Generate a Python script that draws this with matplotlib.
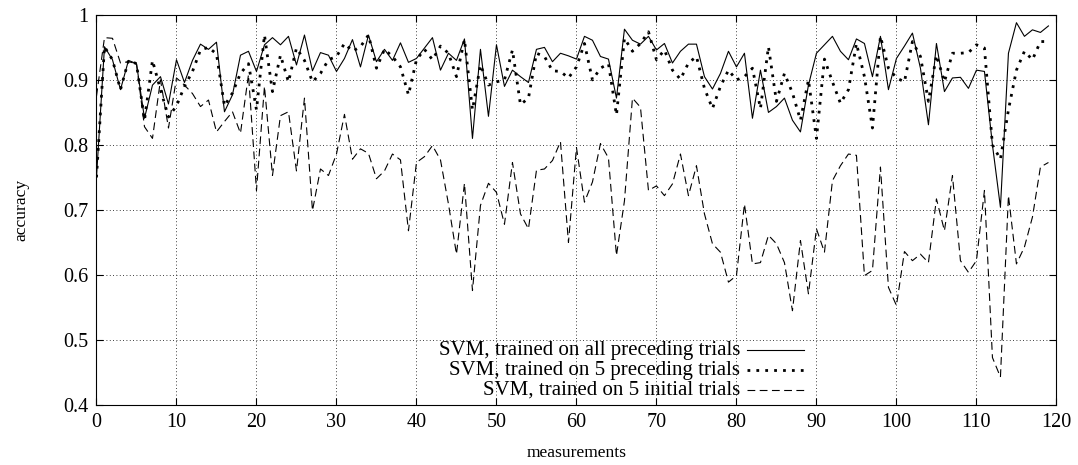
import matplotlib
matplotlib.use("Agg")
import matplotlib.pyplot as plt
from matplotlib.lines import Line2D

plt.rcParams['font.family'] = ['Liberation Serif', 'DejaVu Serif']

# --- data ---
measurements = list(range(120))

svm_all = [
    0.75, 0.951, 0.931, 0.885, 0.93, 0.925, 0.841, 0.892, 0.905, 0.863,
    0.931, 0.896, 0.93, 0.955, 0.947, 0.958, 0.851, 0.877, 0.938, 0.944,
    0.913, 0.954, 0.965, 0.954, 0.967, 0.923, 0.969, 0.914, 0.942, 0.938,
    0.913, 0.933, 0.962, 0.92, 0.969, 0.928, 0.947, 0.93, 0.957, 0.927,
    0.933, 0.949, 0.965, 0.915, 0.941, 0.93, 0.963, 0.81, 0.947, 0.844,
    0.954, 0.89, 0.915, 0.905, 0.896, 0.947, 0.95, 0.928, 0.941, 0.937,
    0.932, 0.967, 0.961, 0.936, 0.932, 0.872, 0.978, 0.961, 0.955, 0.967,
    0.946, 0.956, 0.926, 0.944, 0.955, 0.955, 0.905, 0.886, 0.91, 0.944,
    0.92, 0.941, 0.841, 0.915, 0.85, 0.859, 0.872, 0.838, 0.82, 0.892,
    0.941, 0.954, 0.967, 0.944, 0.931, 0.963, 0.956, 0.905, 0.967, 0.885,
    0.933, 0.952, 0.972, 0.918, 0.831, 0.956, 0.882, 0.903, 0.904, 0.887,
    0.915, 0.913, 0.80, 0.704, 0.941, 0.988, 0.967, 0.977, 0.973, 0.983,
]

svm_5_preceding = [
    0.75, 0.951, 0.931, 0.885, 0.93, 0.925, 0.838, 0.93, 0.885, 0.843,
    0.86, 0.89, 0.913, 0.946, 0.95, 0.94, 0.86, 0.88, 0.91, 0.925,
    0.854, 0.969, 0.882, 0.938, 0.897, 0.949, 0.93, 0.897, 0.91, 0.931,
    0.936, 0.956, 0.944, 0.951, 0.969, 0.918, 0.947, 0.936, 0.92, 0.877,
    0.931, 0.947, 0.931, 0.952, 0.941, 0.905, 0.962, 0.854, 0.923, 0.892,
    0.897, 0.90, 0.946, 0.862, 0.872, 0.941, 0.936, 0.914, 0.913, 0.903,
    0.92, 0.956, 0.90, 0.918, 0.925, 0.846, 0.964, 0.944, 0.956, 0.974,
    0.931, 0.946, 0.915, 0.901, 0.926, 0.936, 0.887, 0.856, 0.89, 0.915,
    0.90, 0.905, 0.918, 0.856, 0.951, 0.867, 0.91, 0.88, 0.838, 0.90,
    0.81, 0.932, 0.897, 0.864, 0.885, 0.956, 0.905, 0.826, 0.967, 0.918,
    0.903, 0.897, 0.959, 0.936, 0.867, 0.938, 0.897, 0.941, 0.941, 0.942,
    0.954, 0.949, 0.80, 0.778, 0.854, 0.915, 0.944, 0.931, 0.959, 0.959,
]

svm_5_initial = [
    0.875, 0.965, 0.964, 0.926, 0.928, 0.925, 0.828, 0.81, 0.90, 0.826,
    0.903, 0.892, 0.879, 0.859, 0.869, 0.82, 0.836, 0.851, 0.818, 0.908,
    0.73, 0.89, 0.753, 0.845, 0.851, 0.76, 0.872, 0.699, 0.763, 0.753,
    0.786, 0.847, 0.778, 0.794, 0.787, 0.748, 0.76, 0.786, 0.777, 0.668,
    0.773, 0.782, 0.799, 0.777, 0.709, 0.632, 0.741, 0.576, 0.707, 0.741,
    0.727, 0.678, 0.773, 0.694, 0.671, 0.761, 0.763, 0.776, 0.805, 0.65,
    0.796, 0.712, 0.743, 0.802, 0.78, 0.63, 0.714, 0.872, 0.858, 0.73,
    0.737, 0.722, 0.74, 0.786, 0.722, 0.768, 0.694, 0.648, 0.635, 0.589,
    0.599, 0.709, 0.617, 0.619, 0.661, 0.648, 0.619, 0.545, 0.653, 0.571,
    0.671, 0.635, 0.745, 0.768, 0.786, 0.784, 0.599, 0.607, 0.766, 0.581,
    0.553, 0.636, 0.622, 0.632, 0.619, 0.717, 0.668, 0.753, 0.622, 0.604,
    0.622, 0.73, 0.473, 0.443, 0.722, 0.617, 0.643, 0.689, 0.766, 0.773,
]

labels = [
    "SVM, trained on all preceding trials",
    "SVM, trained on 5 preceding trials",
    "SVM, trained on 5 initial trials",
]

x_ticks = list(range(0, 121, 10))
y_ticks = [0.4, 0.5, 0.6, 0.7, 0.8, 0.9, 1.0]
y_tick_labels = ["0.4", "0.5", "0.6", "0.7", "0.8", "0.9", "1"]

# --- figure ---
fig = plt.figure(figsize=(10.78, 4.65), dpi=100)
ax = fig.add_axes([0.0895, 0.129, 0.8905, 0.839])

styles = [
    dict(color='black', lw=0.8, linestyle='-'),
    dict(color='black', lw=2.0, linestyle=(0, (1, 2.2))),
    dict(color='black', lw=0.8, linestyle=(0, (7, 4))),
]
series = [svm_all, svm_5_preceding, svm_5_initial]
for vals, st in zip(series, styles):
    ax.plot(measurements, vals, **st)

ax.set_xlim(0, 120)
ax.set_ylim(0.4, 1.0)
ax.set_xticks(x_ticks)
ax.set_yticks(y_ticks)
ax.set_yticklabels(y_tick_labels)
ax.tick_params(direction='in', length=5, width=0.8, top=True, right=True,
               labelsize=14.5, pad=6)
ax.grid(True, color='black', lw=0.6, linestyle=(0, (1, 3)))
for sp in ax.spines.values():
    sp.set_linewidth(0.8)

ax.set_xlabel("measurements", fontsize=12.6, labelpad=9)
ax.set_ylabel("accuracy", fontsize=12.6, labelpad=24)

# gnuplot-style key: right-aligned text, sample to the right
text_right_px = 740
sample_px = (747, 804)
rows_px = [350, 370, 390]
W, H = 1078, 465
for lab, st, yp in zip(labels, styles, rows_px):
    fy = 1 - yp / H
    fig.text(text_right_px / W, fy, lab, ha='right', va='center', fontsize=15)
    fig.add_artist(Line2D([sample_px[0] / W, sample_px[1] / W], [fy, fy],
                          transform=fig.transFigure, **st))

fig.savefig("out.png", dpi=100)
